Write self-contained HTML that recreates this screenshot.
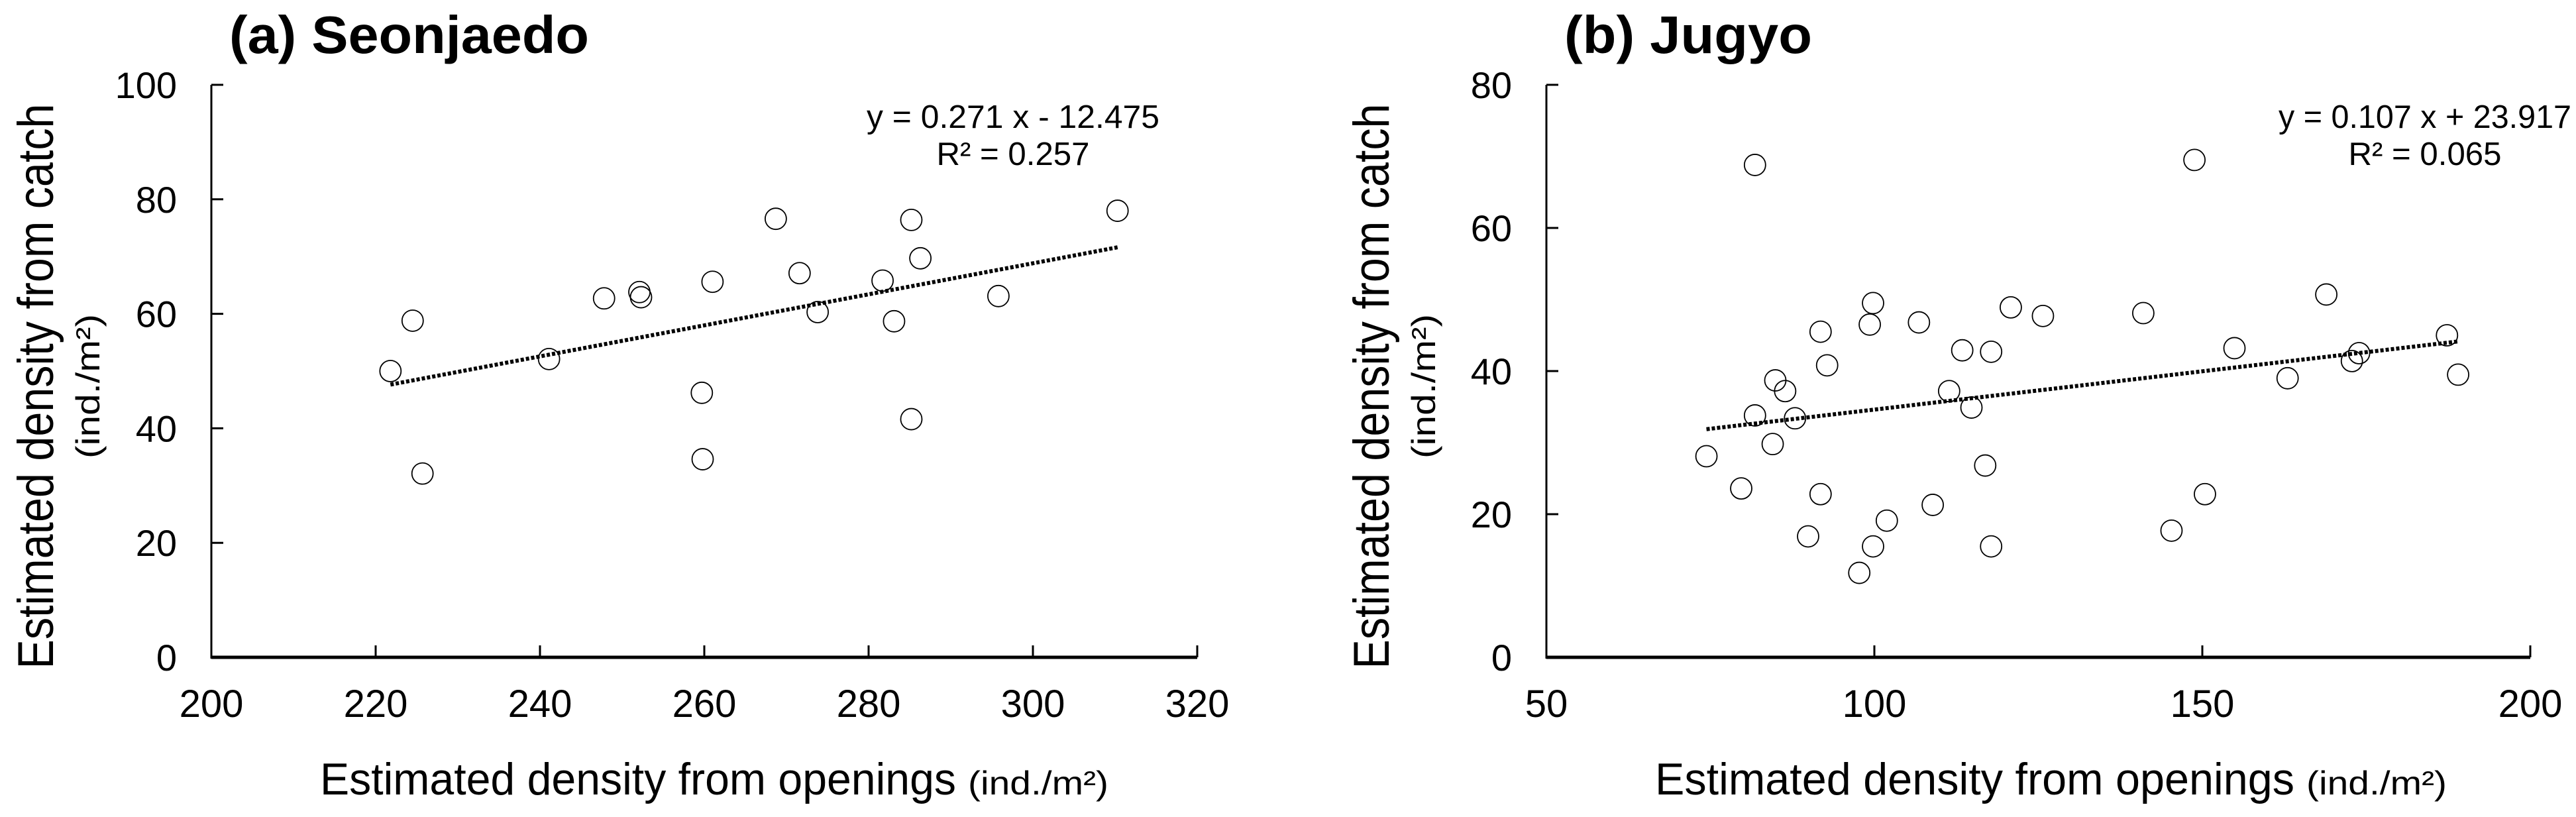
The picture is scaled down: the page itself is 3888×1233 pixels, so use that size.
<!DOCTYPE html>
<html><head><meta charset="utf-8"><style>
html,body{margin:0;padding:0;background:#fff;}
svg{display:block;font-family:"Liberation Sans",Arial,sans-serif;}
</style></head><body>
<svg id="chart" width="3888" height="1233" viewBox="0 0 3888 1233" xmlns="http://www.w3.org/2000/svg">
<rect width="3888" height="1233" fill="#fff"/>
<g id="pa"></g>
<g id="pb"></g>
</svg>
<script>
const aX=[221.8,224.5,225.7,241.1,247.8,252.1,252.3,259.7,259.8,261.0,268.7,271.6,273.8,281.7,283.1,285.2,285.2,286.3,295.8,310.3];
const aY=[50.0,58.8,32.1,52.1,62.7,63.8,62.9,46.2,34.6,65.6,76.6,67.1,60.3,65.8,58.7,76.4,41.6,69.7,63.1,78.0];
const aXTicks=[200,220,240,260,280,300,320];
const aYTicks=[0,20,40,60,80,100];
const aFit=[0.271,-12.475];
const bX=[74.4,79.7,81.8,81.8,84.5,84.9,86.4,87.9,89.9,91.8,91.8,92.8,97.7,99.3,99.8,99.8,101.9,106.8,108.9,111.4,113.4,114.8,116.9,117.8,117.8,120.8,125.7,141.0,145.3,148.8,150.4,154.9,163.0,168.9,172.8,173.9,187.3,189.0];
const bY=[28.1,23.6,68.8,33.8,29.8,38.7,37.2,33.4,16.9,45.5,22.8,40.8,11.8,46.5,49.5,15.5,19.1,46.8,21.3,37.2,42.9,34.9,26.8,42.7,15.5,48.9,47.7,48.1,17.7,69.5,22.8,43.2,39.0,50.7,41.4,42.5,45.0,39.5];
const bXTicks=[50,100,150,200];
const bYTicks=[0,20,40,60,80];
const bFit=[0.107,23.917];

const NS="http://www.w3.org/2000/svg";
function mk(parent,tag,attrs,text){const e=document.createElementNS(NS,tag);for(const k in attrs)e.setAttribute(k,attrs[k]);if(text!==undefined)e.textContent=text;parent.appendChild(e);return e;}

function panel(g,o){
  const x0=o.px0,x1=o.px1,yT=128,yB=992;
  const sx=v=>x0+(v-o.xmin)/(o.xmax-o.xmin)*(x1-x0);
  const sy=v=>yB-(v-o.ymin)/(o.ymax-o.ymin)*(yB-yT);
  let e;
  e=mk(g,'line',{x1:x0,y1:yT,x2:x0,y2:yB+2,stroke:'#000','stroke-width':3});
  
  e=mk(g,'line',{x1:x0,y1:yB,x2:x1,y2:yB,stroke:'#000','stroke-width':5});
  
  o.xt.forEach(v=>{
    const t=mk(g,'line',{x1:sx(v),y1:yB,x2:sx(v),y2:yB-18,stroke:'#000','stroke-width':3});
    
    const l=mk(g,'text',{x:sx(v),y:1082,'font-size':58,'text-anchor':'middle'},String(v));
    
  });
  o.yt.forEach(v=>{
    const t=mk(g,'line',{x1:x0,y1:sy(v),x2:x0+18,y2:sy(v),stroke:'#000','stroke-width':3});
    
    const l=mk(g,'text',{x:x0-52,y:sy(v)+20,'font-size':56,'text-anchor':'end'},String(v));
    
  });
  const xa=Math.min(...o.xs),xb=Math.max(...o.xs);
  e=mk(g,'line',{x1:sx(xa),y1:sy(o.fit[0]*xa+o.fit[1]),x2:sx(xb),y2:sy(o.fit[0]*xb+o.fit[1]),stroke:'#000','stroke-width':6,'stroke-dasharray':'5 3'});
  
  o.xs.forEach((v,i)=>{
    const c=mk(g,'circle',{cx:sx(v),cy:sy(o.ys[i]),r:16,fill:'none',stroke:'#000','stroke-width':1.8});
    
  });
  e=mk(g,'text',{x:o.tx,y:80,'font-size':80,'font-weight':'bold',textLength:o.tl,lengthAdjust:'spacingAndGlyphs'},o.title);
  
  e=mk(g,'text',{x:o.ex,y:193,'font-size':49,'text-anchor':'middle',textLength:442,lengthAdjust:'spacingAndGlyphs'},o.eq);
  
  e=mk(g,'text',{x:o.ex,y:249,'font-size':49,'text-anchor':'middle',textLength:231,lengthAdjust:'spacingAndGlyphs'},o.r2);
  
  e=mk(g,'text',{x:o.xtx,y:1199,'font-size':68,textLength:o.xtl,lengthAdjust:'spacingAndGlyphs'},'Estimated density from openings');
  
  e=mk(g,'text',{x:o.xtx+o.xtl+18,y:1199,'font-size':50,textLength:212,lengthAdjust:'spacingAndGlyphs'},'(ind./m²)');
  
  e=mk(g,'text',{x:0,y:0,'font-size':76,'text-anchor':'middle',transform:`translate(${o.ytx},583) rotate(-90)`,textLength:853,lengthAdjust:'spacingAndGlyphs'},'Estimated density from catch');
  
  e=mk(g,'text',{x:0,y:0,'font-size':50,'text-anchor':'middle',transform:`translate(${o.ytx+70},583) rotate(-90)`,textLength:218,lengthAdjust:'spacingAndGlyphs'},'(ind./m²)');
  
}
panel(document.getElementById('pa'),{px0:319,px1:1807,xmin:200,xmax:320,ymin:0,ymax:100,xt:aXTicks,yt:aYTicks,xs:aX,ys:aY,fit:aFit,
  title:'(a) Seonjaedo',tx:346,tl:543,eq:'y = 0.271 x - 12.475',r2:'R² = 0.257',ex:1529,xtx:483,xtl:960,ytx:80});
panel(document.getElementById('pb'),{px0:2334,px1:3819,xmin:50,xmax:200,ymin:0,ymax:80,xt:bXTicks,yt:bYTicks,xs:bX,ys:bY,fit:bFit,
  title:'(b) Jugyo',tx:2361,tl:374,eq:'y = 0.107 x + 23.917',r2:'R² = 0.065',ex:3660,xtx:2498,xtl:965,ytx:2096});
</script>
</body></html>
